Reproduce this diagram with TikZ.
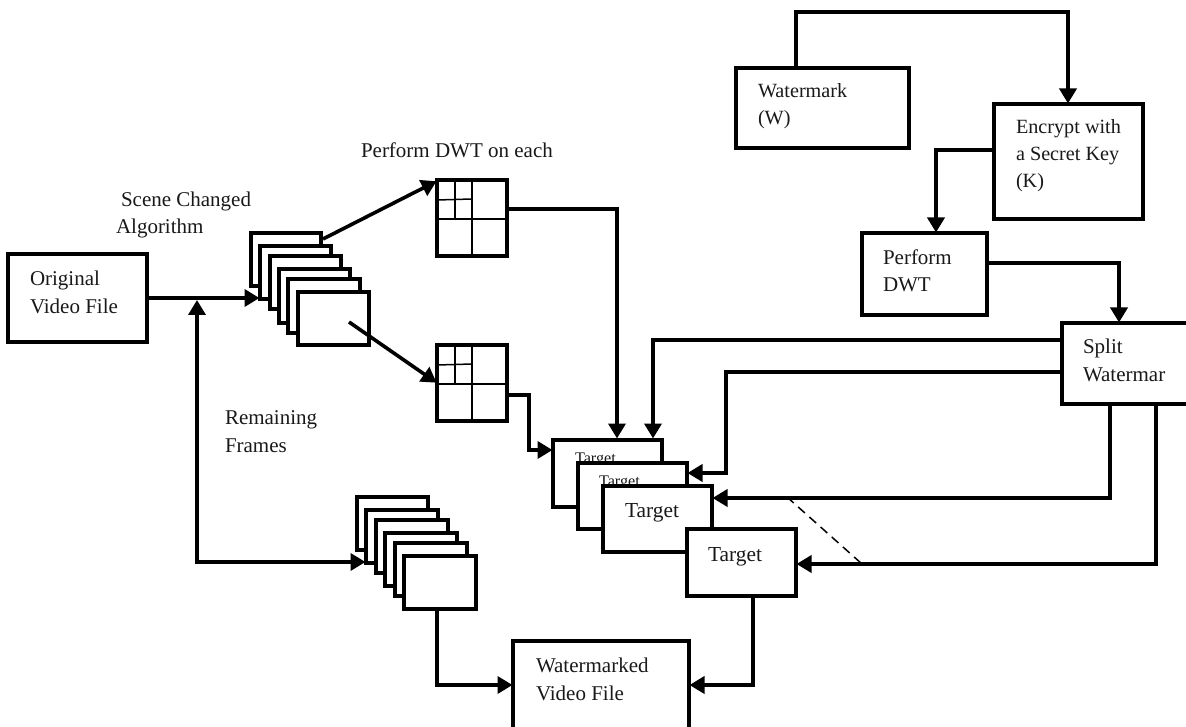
\documentclass[tikz,border=0pt]{standalone}
\usepackage{fontspec}
\setmainfont{Liberation Serif}
\usetikzlibrary{arrows.meta}
\tikzset{
  x=1pt,y=-1pt,
  box/.style={draw=black,fill=white,line width=3.8pt,inner sep=0pt,outer sep=0pt,anchor=north west,rectangle},
  lbl/.style={inner sep=0pt,outer sep=0pt,anchor=base west,align=left,text=black!90,font=\fontsize{21}{27.2}\selectfont},
  midlbl/.style={lbl,font=\fontsize{20.2}{27.2}\selectfont},
  smalllbl/.style={lbl,font=\fontsize{16.2}{18}\selectfont},
  biglbl/.style={lbl,font=\fontsize{21.4}{27}\selectfont},
  plain/.style={draw=black,line width=3.6pt,line join=miter},
  conn/.style={plain,-{Triangle[length=15pt,width=17pt]},shorten >=0.5pt},
  thin line/.style={draw=black,line width=1.5pt},
}
% name, left, top, right, bottom
\newcommand{\bx}[5]{\node[box,minimum width=#4pt-#2pt,minimum height=#5pt-#3pt] (#1) at (#2,#3) {};}
\newcommand{\gridbx}[2]{%
  \bx{#1}{437}{#2}{507}{#2+76}
  \draw[thin line] (#1.north) -- (#1.south);
  \draw[thin line] (#1.west) ++(0,1) -- ++(70,0);
  \draw[thin line] ([xshift=18pt]#1.north west) -- ++(0,39);
  \draw[thin line] ([shift={(0,20)}]#1.north west) -- ++(35,-1);
}
\begin{document}
\begin{tikzpicture}
\useasboundingbox (0,0) rectangle (1186,727);
\clip (0,0) rectangle (1186,727);
\fill[white] (0,0) rectangle (1186,727);

% source
\bx{orig}{8}{254}{147}{342}
\node[lbl] (origT) at (30,313) {Original\\Video File};
\node[lbl] (sceneA) at (121,207) {Scene Changed};
\node[lbl] (sceneB) at (116,234) {Algorithm};
\node[lbl] (dwtT) at (361,158) {Perform DWT on each};
\node[lbl] (remT) at (225,452) {Remaining\\Frames};

% upper frame stack
\bx{fa}{251}{233}{321}{286}
\bx{fb}{260}{246}{331}{299}
\bx{fc}{270}{256}{341}{309}
\bx{fd}{279}{269}{350}{323}
\bx{fe}{288}{279}{360}{333}
\bx{ff}{298}{292}{369}{345}

% lower frame stack
\bx{ra}{357}{497}{428}{550}
\bx{rb}{366}{510}{438}{563}
\bx{rc}{376}{520}{448}{573}
\bx{rd}{385}{533}{457}{586}
\bx{re}{395}{543}{467}{596}
\bx{rf}{404}{556}{476}{609}

% DWT grids
\gridbx{ga}{180}
\gridbx{gb}{345}

% targets
\bx{ta}{553}{440}{662}{507}
\node[smalllbl] (taT) at (575,463) {Target};
\bx{tb}{578}{463}{687}{529}
\node[smalllbl] (tbT) at (599,486) {Target};
\bx{tc}{603}{486}{712}{552}
\node[biglbl] (tcT) at (625,517) {Target};
\bx{td}{687}{529}{796}{596}
\node[biglbl] (tdT) at (708,561) {Target};

% watermark side
\bx{wm}{736}{68}{909}{148}
\node[midlbl] (wmT) at (758,125) {Watermark\\(W)};
\bx{enc}{994}{104}{1143}{219}
\node[midlbl] (encT) at (1016,188) {Encrypt with\\a Secret Key\\(K)};
\bx{pd}{862}{233}{987}{315}
\node[lbl] (pdT) at (883,292) {Perform\\DWT};
\bx{sp}{1062}{323}{1200}{404}
\node[lbl] (spT) at (1083,381) {Split\\Watermar};
\bx{out}{513}{641}{689}{760}
\node[lbl] (outT) at (536,700) {Watermarked\\Video File};

% connectors
\draw[conn] (orig.east) -- (fb.west |- orig.east);
\draw[conn,{Triangle[length=15pt,width=17pt]}-{Triangle[length=15pt,width=17pt]}] (197,300) -- (197,562) -- (rb.west |- 0,562);
\draw[conn] ([shift={(2,6)}]fa.north east) -- (ga.north west |- 0,181);
\draw[conn] ([shift={(51,30)}]ff.north west) -- (gb.west);
\draw[conn] (ga.east |- 0,209) -- (617,209) -- (617,439);
\draw[conn] (gb.east |- 0,395) -- (529,395) -- (529,450) -- (ta.west |- 0,450);
\draw[conn] (sp.west |- 0,340) -- (653,340) -- (653,439);
\draw[conn] (sp.west |- 0,372) -- (726,372) -- (726,473) -- (tb.east |- 0,473);
\draw[conn] (1110,404) -- (1110,498) -- (tc.east |- 0,498);
\draw[conn] (1156,404) -- (1156,564) -- (td.east |- 0,564);
\draw[draw=black,line width=1.5pt,dash pattern=on 9pt off 6pt] (787,497) -- (862,564);
\draw[conn] (796,68) -- (796,12) -- (1068,12) -- (1068,104);
\draw[conn] (enc.west |- 0,150) -- (936,150) -- (936,233);
\draw[conn] (pd.east |- 0,263) -- (1119,263) -- (1119,323);
\draw[conn] (437,609) -- (437,685) -- (out.west |- 0,685);
\draw[conn] (753,596) -- (753,685) -- (out.east |- 0,685);
\end{tikzpicture}
\end{document}
